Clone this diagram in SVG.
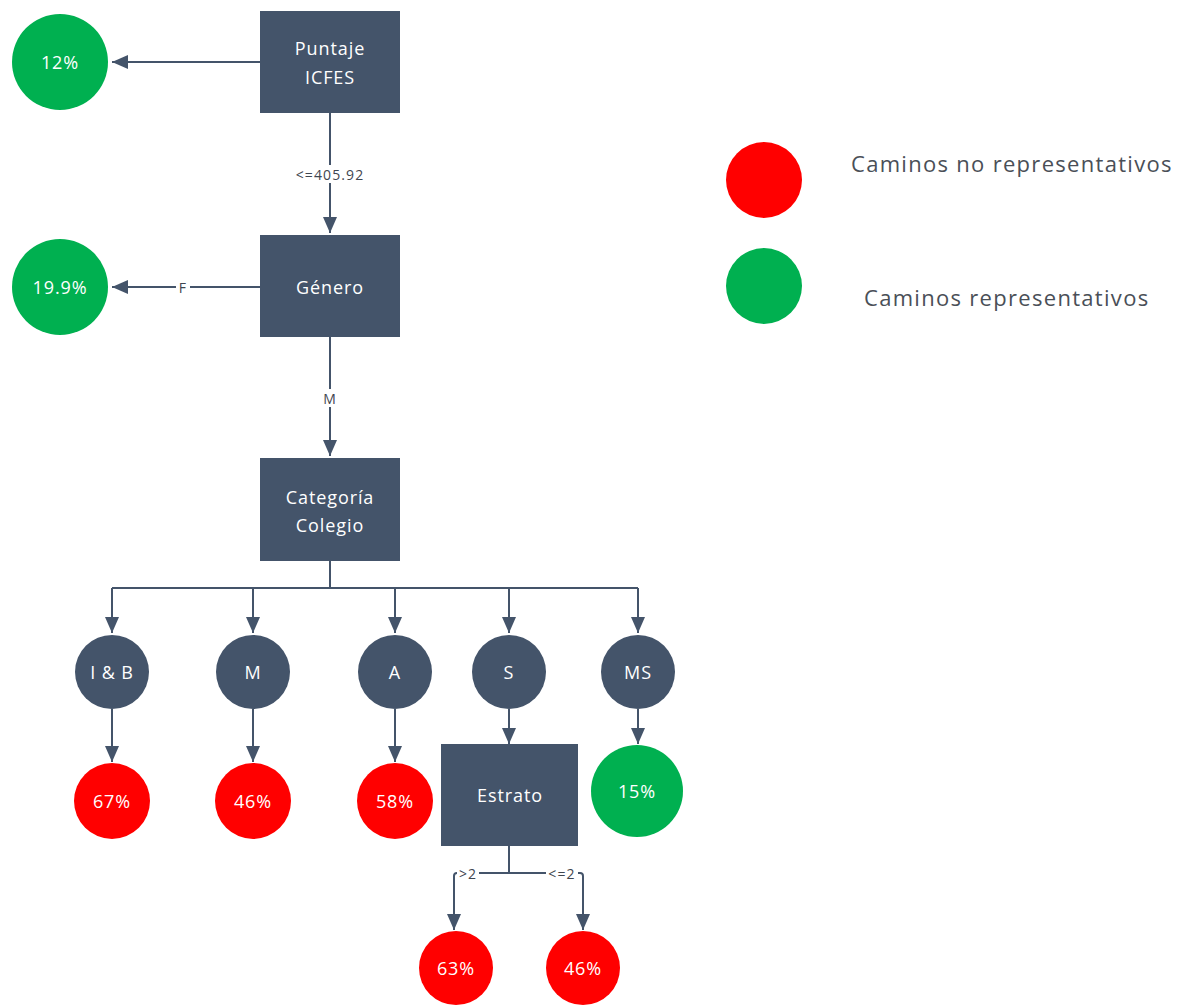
<svg xmlns="http://www.w3.org/2000/svg" width="1186" height="1006" viewBox="0 0 1186 1006">
<style>
.box{fill:#44546a}
.dark{fill:#44546a}
.green{fill:#00b050}
.red{fill:#ff0000}
.t{font-family:"Open Sans","Liberation Sans",sans-serif;font-size:18px;letter-spacing:0.9px;fill:#ffffff;text-anchor:middle;dominant-baseline:central}
.c{fill:none;stroke:#44546a;stroke-width:2}
.lbl{font-family:"Open Sans","Liberation Sans",sans-serif;font-size:14px;letter-spacing:1.1px;fill:#3f4650;text-anchor:middle;dominant-baseline:central}
.lb{fill:#ffffff}
.leg{font-family:"Open Sans","Liberation Sans",sans-serif;font-size:22px;letter-spacing:1.3px;fill:#4a4f57;text-anchor:start;dominant-baseline:central}
</style>
<defs>
<marker id="ah" markerUnits="userSpaceOnUse" markerWidth="16" markerHeight="16" viewBox="0 0 16 16" refX="16" refY="8" orient="auto">
<path d="M0,1 L16,8 L0,15 Z" fill="#44546a"/>
</marker>
</defs>
<rect width="1186" height="1006" fill="#ffffff"/>
<g id="connectors">
<line class="c" x1="260" y1="62" x2="112" y2="62" marker-end="url(#ah)"/>
<line class="c" x1="330" y1="113" x2="330" y2="233" marker-end="url(#ah)"/>
<line class="c" x1="260" y1="287" x2="112" y2="287" marker-end="url(#ah)"/>
<line class="c" x1="330" y1="337" x2="330" y2="456" marker-end="url(#ah)"/>
<line class="c" x1="330" y1="561" x2="330" y2="588"/>
<line class="c" x1="112" y1="588" x2="638" y2="588"/>
<line class="c" x1="112" y1="588" x2="112" y2="633" marker-end="url(#ah)"/>
<line class="c" x1="253" y1="588" x2="253" y2="633" marker-end="url(#ah)"/>
<line class="c" x1="395" y1="588" x2="395" y2="633" marker-end="url(#ah)"/>
<line class="c" x1="509" y1="588" x2="509" y2="633" marker-end="url(#ah)"/>
<line class="c" x1="638" y1="588" x2="638" y2="633" marker-end="url(#ah)"/>
<line class="c" x1="112" y1="709" x2="112" y2="762" marker-end="url(#ah)"/>
<line class="c" x1="253" y1="709" x2="253" y2="762" marker-end="url(#ah)"/>
<line class="c" x1="395" y1="709" x2="395" y2="762" marker-end="url(#ah)"/>
<line class="c" x1="509" y1="709" x2="509" y2="744" marker-end="url(#ah)"/>
<line class="c" x1="638" y1="709" x2="638" y2="744" marker-end="url(#ah)"/>
<line class="c" x1="509" y1="846" x2="509" y2="873"/>
<path class="c" d="M509,873 H457 Q454,873 454,876 V930" marker-end="url(#ah)"/>
<path class="c" d="M509,873 H580 Q583,873 583,876 V930" marker-end="url(#ah)"/>
<rect class="lb" x="295" y="165" width="70" height="18"/>
<text class="lbl" x="330" y="174">&lt;=405.92</text>
<rect class="lb" x="176" y="278" width="14" height="18"/>
<text class="lbl" x="183" y="287">F</text>
<rect class="lb" x="321" y="389" width="18" height="18"/>
<text class="lbl" x="330" y="398">M</text>
<rect class="lb" x="457" y="864" width="22" height="18"/>
<text class="lbl" x="468" y="873">&gt;2</text>
<rect class="lb" x="546" y="864" width="32" height="18"/>
<text class="lbl" x="562" y="873">&lt;=2</text>
</g>
<g id="n-puntaje"><rect class="box" x="260" y="11" width="140" height="102"/><text class="t" x="330" y="48">Puntaje</text><text class="t" x="330" y="77">ICFES</text></g>
<g id="n-12"><circle class="green" cx="60" cy="62" r="48"/><text class="t" x="60" y="62">12%</text></g>
<g id="n-genero"><rect class="box" x="260" y="235" width="140" height="102"/><text class="t" x="330" y="287">Género</text></g>
<g id="n-199"><circle class="green" cx="60" cy="287" r="48"/><text class="t" x="60" y="287">19.9%</text></g>
<g id="n-categoria"><rect class="box" x="260" y="458" width="140" height="103"/><text class="t" x="330" y="497">Categoría</text><text class="t" x="330" y="525">Colegio</text></g>
<g id="n-ib"><circle class="dark" cx="112" cy="672" r="37"/><text class="t" x="112" y="672">I &amp; B</text></g>
<g id="n-m"><circle class="dark" cx="253" cy="672" r="37"/><text class="t" x="253" y="672">M</text></g>
<g id="n-a"><circle class="dark" cx="395" cy="672" r="37"/><text class="t" x="395" y="672">A</text></g>
<g id="n-s"><circle class="dark" cx="509" cy="672" r="37"/><text class="t" x="509" y="672">S</text></g>
<g id="n-ms"><circle class="dark" cx="638" cy="672" r="37"/><text class="t" x="638" y="672">MS</text></g>
<g id="n-67"><circle class="red" cx="112" cy="801" r="38"/><text class="t" x="112" y="801">67%</text></g>
<g id="n-46a"><circle class="red" cx="253" cy="801" r="38"/><text class="t" x="253" y="801">46%</text></g>
<g id="n-58"><circle class="red" cx="395" cy="801" r="38"/><text class="t" x="395" y="801">58%</text></g>
<g id="n-estrato"><rect class="box" x="441" y="744" width="137" height="102"/><text class="t" x="510" y="795">Estrato</text></g>
<g id="n-15"><circle class="green" cx="637" cy="791" r="46"/><text class="t" x="637" y="791">15%</text></g>
<g id="n-63"><circle class="red" cx="456" cy="968" r="37"/><text class="t" x="456" y="968">63%</text></g>
<g id="n-46b"><circle class="red" cx="583" cy="968" r="37"/><text class="t" x="583" y="968">46%</text></g>
<g id="legend">
<circle class="red" cx="764" cy="180" r="38"/>
<text class="leg" x="851" y="163">Caminos no representativos</text>
<circle class="green" cx="764" cy="286" r="38"/>
<text class="leg" x="864" y="297">Caminos representativos</text>
</g>
</svg>
